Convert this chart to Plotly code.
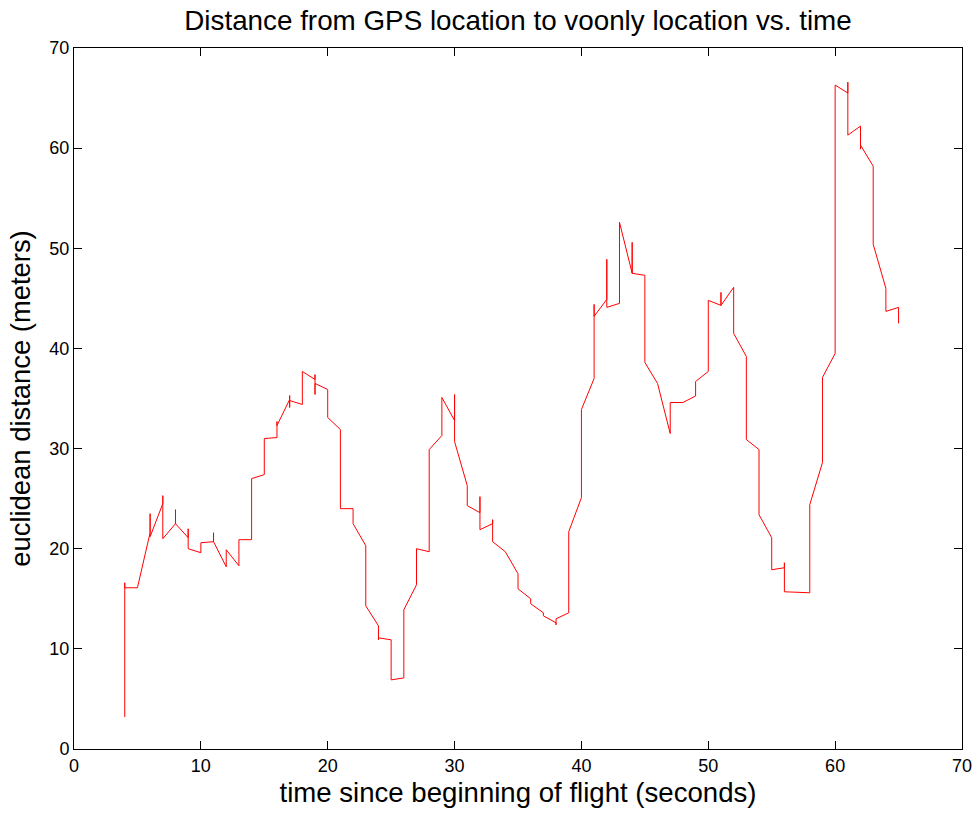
import plotly.graph_objects as go

# Samples of the distance between the GPS fix and the voonly estimate.
# Timestamps are whole seconds, so several samples share one time value.
time_s = [
    4, 4, 4,
    5,
    6, 6, 6,
    7, 7, 7,
    8, 8, 8,
    9, 9, 9,
    10, 10,
    11, 11, 11,
    12, 12,
    13, 13,
    14, 14,
    15, 15,
    16, 16, 16,
    17, 17, 17, 17,
    18, 18,
    19, 19, 19, 19,
    20, 20,
    21, 21,
    22, 22,
    23, 23,
    24, 24, 24,
    25, 25,
    26, 26,
    27, 27,
    28, 28,
    29, 29,
    30, 30, 30,
    31, 31,
    32, 32, 32,
    33, 33, 33,
    34,
    35, 35,
    36, 36,
    37, 37,
    38, 38, 38,
    39, 39,
    40, 40,
    41, 41, 41,
    42, 42, 42,
    43, 43,
    44, 44, 44,
    45, 45,
    46,
    47, 47,
    48,
    49, 49,
    50, 50,
    51, 51, 51,
    52, 52,
    53, 53,
    54, 54,
    55, 55,
    56, 56, 56,
    58, 58,
    59, 59,
    60, 60,
    61, 61, 61,
    62, 62, 62,
    63, 63,
    64, 64,
    65, 65,
]

distance_m = [
    3.2, 16.6, 16.1,
    16.1,
    21.6, 23.5, 21.2,
    24.5, 25.3, 21.0,
    22.5, 23.9, 22.5,
    21.1, 22.0, 20.0,
    19.6, 20.6,
    20.7, 21.6, 20.7,
    18.2, 19.9,
    18.3, 20.9,
    20.9, 27.0,
    27.4, 31.0,
    31.1, 32.7, 32.3,
    34.9, 35.3, 34.1, 34.8,
    34.4, 37.7,
    36.9, 37.4, 35.4, 36.5,
    35.9, 33.1,
    31.9, 24.0,
    24.0, 22.5,
    20.3, 14.3,
    12.3, 10.9, 11.1,
    10.9, 6.9,
    7.1, 13.9,
    16.4, 20.0,
    19.7, 29.9,
    31.3, 35.1,
    32.8, 35.4, 30.7,
    26.3, 24.3,
    23.6, 25.2, 21.9,
    22.5, 22.9, 20.7,
    19.7,
    17.5, 16.0,
    15.0, 14.5,
    13.6, 13.3,
    12.6, 12.4, 13.0,
    13.6, 21.7,
    25.1, 33.9,
    37.0, 44.4, 43.2,
    44.9, 48.9, 44.1,
    44.5, 52.6,
    47.5, 50.6, 47.5,
    47.3, 38.6,
    36.5,
    31.5, 34.6,
    34.6,
    35.25, 36.7,
    37.7, 44.8,
    44.3, 45.6, 44.3,
    46.1, 41.5,
    39.2, 30.9,
    29.9, 23.4,
    21.1, 17.9,
    18.1, 18.6, 15.7,
    15.6, 24.4,
    28.6, 37.1,
    39.5, 66.3,
    65.5, 66.6, 61.3,
    62.2, 59.9, 60.3,
    58.2, 50.4,
    46.0, 43.7,
    44.1, 42.5,
]

axis_ticks = [0, 10, 20, 30, 40, 50, 60, 70]

FONT = "Liberation Sans, Arial, Helvetica, sans-serif"

fig = go.Figure(
    go.Scatter(
        x=time_s,
        y=distance_m,
        mode="lines",
        line=dict(color="#ff0000", width=1),
        hoverinfo="x+y",
    )
)

axis_style = dict(
    showline=True,
    linecolor="black",
    linewidth=1,
    mirror="ticks",
    ticks="inside",
    ticklen=8,
    tickwidth=1,
    tickcolor="black",
    showgrid=False,
    zeroline=False,
    automargin=False,
    tickvals=axis_ticks,
    tickfont=dict(family=FONT, size=18, color="black"),
    range=[0, 70],
)

fig.update_layout(
    template="none",
    width=977,
    height=813,
    margin=dict(l=74, r=15, t=48, b=64),
    paper_bgcolor="white",
    plot_bgcolor="white",
    showlegend=False,
    title=dict(
        text="Distance from GPS location to voonly location vs. time",
        x=(74 + 962) / 2 / 977,
        xanchor="center",
        y=1 - 20 / 813,
        yanchor="middle",
        font=dict(family=FONT, size=27.8, color="black"),
    ),
    xaxis=dict(
        axis_style,
        title=dict(
            text="time since beginning of flight (seconds)",
            font=dict(family=FONT, size=27.6, color="black"),
            standoff=8,
        ),
    ),
    yaxis=dict(
        axis_style,
        title=dict(
            text="euclidean distance (meters)",
            font=dict(family=FONT, size=27.4, color="black"),
            standoff=10,
        ),
    ),
)

fig.write_html("out.html")
